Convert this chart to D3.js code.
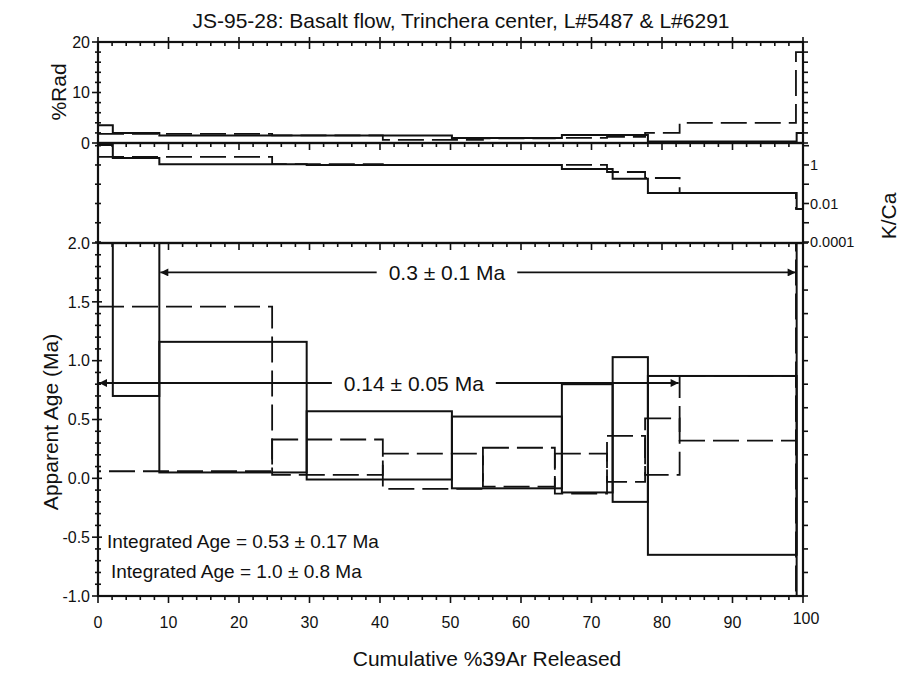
<!DOCTYPE html>
<html>
<head>
<meta charset="utf-8">
<script src="https://cdn.jsdelivr.net/npm/d3@7"></script>
<style>
  body { margin: 0; background: #fff; }
  svg { display: block; font-family: "Liberation Sans", Arial, Helvetica, sans-serif; }
</style>
</head>
<body>
<svg id="chart" width="901" height="674"></svg>
<script>
// ---- Sample L#5487 (solid) : step boundaries in cumulative %39Ar ----
const solidSteps = [0, 2.1, 8.7, 29.6, 50.2, 65.8, 73.0, 78.0, 99.1, 100];
const solidAge   = [5.0, 1.6, 0.605, 0.28, 0.22, 0.34, 0.415, 0.11, 0.0];   // Ma
const solidErr   = [2.0, 0.9, 0.555, 0.29, 0.305, 0.46, 0.615, 0.76, 5.0]; // ± Ma
const solidKCa   = [11, 2.3, 1.1, 1.0, 1.0, 0.62, 0.19, 0.035, 0.0052];
const solidRad   = [3.5, 2.0, 1.5, 1.5, 1.0, 1.6, 1.6, 0.3, 2.0];

// ---- Sample L#6291 (dashed) ----
const dashSteps = [0, 24.7, 40.4, 54.6, 64.8, 72.2, 77.6, 82.5, 99.0, 100];
const dashAge   = [0.76, 0.18, 0.06, 0.095, 0.04, 0.165, 0.27, 0.595, 0.0];
const dashErr   = [0.70, 0.15, 0.15, 0.165, 0.17, 0.195, 0.24, 0.275, 5.0];
const dashKCa   = [2.6, 1.1, 1.0, 1.0, 1.0, 0.43, 0.21, 0.035, 0.0052];
const dashRad   = [1.8, 1.5, 0.6, 0.9, 1.0, 1.2, 2.0, 4.0, 18];

// ---- Plateau ages ----
const plateauText  = ["0.3 \u00b1 0.1 Ma", "0.14 \u00b1 0.05 Ma"];
const plateauFrom  = [8.7, 0];
const plateauTo    = [99.1, 82.5];
const plateauLevel = [1.75, 0.81];
const plateauLabelAt = [49.5, 44.8];

// ---- Integrated ages ----
const integratedText = ["Integrated Age = 0.53 \u00b1 0.17 Ma", "Integrated Age = 1.0 \u00b1 0.8 Ma"];

// ---- Tick labels ----
const xTickLabels   = [0, 10, 20, 30, 40, 50, 60, 70, 80, 90, 100];
const ageTickLabels = [-1.0, -0.5, 0.0, 0.5, 1.0, 1.5, 2.0];
const radTickLabels = [0, 10, 20];
const kcaTickLabels = [1, 0.01, 0.0001];

const titleText = "JS-95-28: Basalt flow, Trinchera center, L#5487 & L#6291";

// ---------------------------------------------------------------
const svg = d3.select("#chart");
const L = 98, R = 803;
const x    = d3.scaleLinear().domain([0, 100]).range([L, R]);
const yRad = d3.scaleLinear().domain([0, 20]).range([143, 42]);
const yKCa = d3.scaleLog().domain([8.9e-5, 13.8]).range([243, 143]);
const yAge = d3.scaleLinear().domain([-1, 2]).range([596, 243]);

const panels = [
  { id: "rad", y: yRad, top: 42,  bottom: 143 },
  { id: "kca", y: yKCa, top: 143, bottom: 243 },
  { id: "age", y: yAge, top: 243, bottom: 596 }
];

const defs = svg.append("defs");
panels.forEach(p => {
  defs.append("clipPath").attr("id", "clip-" + p.id)
    .append("rect").attr("x", L).attr("y", p.top)
    .attr("width", R - L).attr("height", p.bottom - p.top);
});
// filled arrowhead, tip at the end of the line
defs.append("marker").attr("id", "arrowHead")
  .attr("viewBox", "0 0 10 10").attr("refX", 10).attr("refY", 5)
  .attr("markerWidth", 12).attr("markerHeight", 8).attr("markerUnits", "userSpaceOnUse")
  .attr("orient", "auto")
  .append("path").attr("d", "M0,0L10,5L0,10Z").attr("fill", "#111");

const ink = "#111";
const dash = "26,8";

// ---- step-line helper for %Rad and K/Ca ----
function stepPts(bounds, vals) {
  const pts = vals.map((v, i) => [bounds[i], v]);
  pts.push([bounds[bounds.length - 1], vals[vals.length - 1]]);
  return pts;
}
function drawSteps(panel, bounds, vals, dashed) {
  const line = d3.line().x(d => x(d[0])).y(d => panel.y(d[1])).curve(d3.curveStepAfter);
  svg.append("path")
    .attr("clip-path", "url(#clip-" + panel.id + ")")
    .attr("d", line(stepPts(bounds, vals)))
    .attr("fill", "none").attr("stroke", ink)
    .attr("stroke-width", dashed ? 1.8 : 2)
    .attr("stroke-dasharray", dashed ? dash : null);
}
drawSteps(panels[0], dashSteps, dashRad, true);
drawSteps(panels[0], solidSteps, solidRad, false);
drawSteps(panels[1], dashSteps, dashKCa, true);
drawSteps(panels[1], solidSteps, solidKCa, false);

// ---- age spectrum boxes (age ± 2σ) ----
function drawBoxes(bounds, ages, errs, dashed) {
  const rows = ages.map((a, i) => ({ x0: bounds[i], x1: bounds[i + 1], hi: a + errs[i], lo: a - errs[i] }));
  svg.append("g").attr("clip-path", "url(#clip-age)")
    .selectAll("rect").data(rows).join("rect")
    .attr("x", d => x(d.x0)).attr("width", d => x(d.x1) - x(d.x0))
    .attr("y", d => yAge(d.hi)).attr("height", d => yAge(d.lo) - yAge(d.hi))
    .attr("fill", "none").attr("stroke", ink)
    .attr("stroke-width", dashed ? 1.8 : 2)
    .attr("stroke-dasharray", dashed ? dash : null);
}
drawBoxes(dashSteps, dashAge, dashErr, true);
drawBoxes(solidSteps, solidAge, solidErr, false);

// ---- plateau arrows with labels ----
plateauText.forEach((t, i) => {
  const yy = yAge(plateauLevel[i]);
  const lab = svg.append("text")
    .attr("x", x(plateauLabelAt[i])).attr("y", yy).attr("dy", "0.36em")
    .attr("text-anchor", "middle").attr("font-size", 21).attr("fill", ink)
    .text(t);
  const w = lab.node().getComputedTextLength();
  const cx = x(plateauLabelAt[i]), pad = 12;
  svg.append("line")
    .attr("x1", cx - w / 2 - pad).attr("x2", x(plateauFrom[i]) + 1)
    .attr("y1", yy).attr("y2", yy)
    .attr("stroke", ink).attr("stroke-width", 1.8)
    .attr("marker-end", "url(#arrowHead)");
  svg.append("line")
    .attr("x1", cx + w / 2 + pad).attr("x2", x(plateauTo[i]) - 1)
    .attr("y1", yy).attr("y2", yy)
    .attr("stroke", ink).attr("stroke-width", 1.8)
    .attr("marker-end", "url(#arrowHead)");
});

// ---- integrated ages ----
svg.append("text").attr("x", 107).attr("y", 548).attr("font-size", 19).attr("fill", ink).text(integratedText[0]);
svg.append("text").attr("x", 111).attr("y", 578).attr("font-size", 19).attr("fill", ink).text(integratedText[1]);

// ---- frames and ticks ----
const axisG = svg.append("g").attr("stroke", ink).attr("fill", "none");
panels.forEach(p => {
  axisG.append("rect").attr("x", L).attr("y", p.top).attr("width", R - L).attr("height", p.bottom - p.top)
    .attr("stroke-width", 2.2);
});
function tick(x1, y1, x2, y2, w) {
  axisG.append("line").attr("x1", x1).attr("y1", y1).attr("x2", x2).attr("y2", y2).attr("stroke-width", w || 1.6);
}
// ticks along each horizontal frame line (pointing down)
const xMinor = d3.range(0, 101, 2);
[42, 143, 243, 596].forEach(yy => {
  xMinor.forEach(v => {
    const major = v % 10 === 0;
    tick(x(v), major && yy === 42 ? yy - 5 : yy, x(v), yy + (major ? 7 : 4));
  });
});
// age panel, left and right
d3.range(-1, 2.0001, 0.1).forEach(v => {
  const major = Math.abs(Math.round(v * 2) - v * 2) < 1e-6;
  tick(L - (major ? 6 : 3), yAge(v), L + (major ? 4 : 3), yAge(v));
});
d3.range(-1, 2.0001, 0.2).forEach(v => tick(R, yAge(v), R + 5, yAge(v)));
// %Rad panel
d3.range(0, 20.001, 2).forEach(v => {
  const major = v % 10 === 0;
  tick(L - (major ? 6 : 3), yRad(v), L + 3, yRad(v));
  tick(R, yRad(v), R + 5, yRad(v));
});
// K/Ca panel, one tick per decade
[1e-4, 1e-3, 1e-2, 1e-1, 1, 10].forEach(v => {
  tick(L - 3, yKCa(v), L + 3, yKCa(v));
  tick(R, yKCa(v), R + 6, yKCa(v));
});

// ---- tick labels ----
const lab = svg.append("g").attr("fill", ink);
xTickLabels.forEach(v => {
  lab.append("text").attr("x", x(v) + (v === 100 ? 3 : 0)).attr("y", v === 100 ? 624 : 628)
    .attr("text-anchor", "middle").attr("font-size", 16).text(v);
});
ageTickLabels.forEach(v => {
  lab.append("text").attr("x", 90).attr("y", yAge(v)).attr("dy", "0.36em")
    .attr("text-anchor", "end").attr("font-size", 16).text(d3.format(".1f")(v).replace("\u2212", "-"));
});
radTickLabels.forEach(v => {
  lab.append("text").attr("x", 90).attr("y", yRad(v)).attr("dy", "0.36em")
    .attr("text-anchor", "end").attr("font-size", 16).text(v);
});
kcaTickLabels.forEach(v => {
  lab.append("text").attr("x", 810).attr("y", yKCa(v)).attr("dy", "0.36em")
    .attr("text-anchor", "start").attr("font-size", 14.5).text(v === 0.0001 ? "0.0001" : String(v));
});

// ---- titles ----
svg.append("text").attr("x", 461).attr("y", 28).attr("text-anchor", "middle")
  .attr("font-size", 21).attr("fill", ink).text(titleText);
svg.append("text").attr("x", 487).attr("y", 666).attr("text-anchor", "middle")
  .attr("font-size", 21).attr("fill", ink).text("Cumulative %39Ar Released");
svg.append("text").attr("transform", "translate(58,422) rotate(-90)").attr("text-anchor", "middle")
  .attr("font-size", 21).attr("fill", ink).text("Apparent Age (Ma)");
svg.append("text").attr("transform", "translate(66,92) rotate(-90)").attr("text-anchor", "middle")
  .attr("font-size", 21).attr("fill", ink).text("%Rad");
svg.append("text").attr("transform", "translate(896,216) rotate(-90)").attr("text-anchor", "middle")
  .attr("font-size", 21).attr("fill", ink).text("K/Ca");
</script>
</body>
</html>
